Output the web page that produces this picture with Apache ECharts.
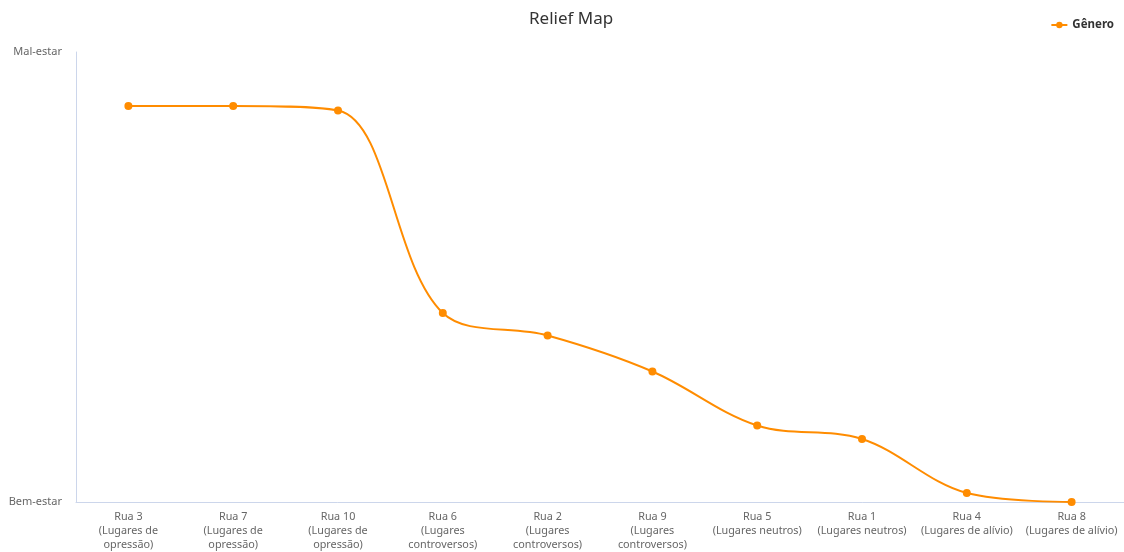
<!DOCTYPE html>
<html>
<head>
<meta charset="utf-8">
<script src="https://cdn.jsdelivr.net/npm/echarts@6/dist/echarts.min.js"></script>
<style>
html,body{margin:0;padding:0;background:#fff;}
#chart{width:1124px;height:552px;}
</style>
</head>
<body>
<div id="chart"></div>
<script>
const categories = [
  "Rua 3\n(Lugares de\nopressão)",
  "Rua 7\n(Lugares de\nopressão)",
  "Rua 10\n(Lugares de\nopressão)",
  "Rua 6\n(Lugares\ncontroversos)",
  "Rua 2\n(Lugares\ncontroversos)",
  "Rua 9\n(Lugares\ncontroversos)",
  "Rua 5\n(Lugares neutros)",
  "Rua 1\n(Lugares neutros)",
  "Rua 4\n(Lugares de alívio)",
  "Rua 8\n(Lugares de alívio)"
];
const generoValues = [88, 88, 87, 42, 37, 29, 17, 14, 2, 0];
const yTickLabels = { 0: "Bem-estar", 100: "Mal-estar" };
const seriesName = "Gênero";

const chart = echarts.init(document.getElementById('chart'));
const font = "'Noto Sans', 'DejaVu Sans', sans-serif";
chart.setOption({
  backgroundColor: '#fff',
  animation: false,
  title: {
    text: 'Relief Map', left: 524, top: 6,
    textStyle: { fontFamily: font, fontSize: 17, fontWeight: 'normal', color: '#333' }
  },
  legend: {
    right: 5, top: 14, itemWidth: 16, itemHeight: 8, itemGap: 5,
    textStyle: { fontFamily: font, fontSize: 11.5, fontWeight: 'bold', color: '#333' },
    data: [seriesName]
  },
  grid: { left: 76, right: 0, top: 52, bottom: 46 },
  xAxis: {
    type: 'category', data: categories, boundaryGap: true,
    axisLine: { show: true, lineStyle: { color: '#ccd6eb' } },
    axisTick: { show: false },
    axisLabel: { fontFamily: font, fontSize: 10.8, color: '#666', lineHeight: 14, margin: 8, interval: 0 }
  },
  yAxis: {
    type: 'value', min: 0, max: 100, interval: 100,
    axisLine: { show: true, lineStyle: { color: '#ccd6eb' } },
    axisTick: { show: false },
    splitLine: { show: false },
    axisLabel: {
      fontFamily: font, fontSize: 11, color: '#666', margin: 14,
      formatter: v => yTickLabels[v] || ''
    }
  },
  series: [{
    name: seriesName, type: 'line', data: generoValues, smooth: 0.35,
    symbol: 'circle', symbolSize: 8,
    itemStyle: { color: '#ff8c00' },
    lineStyle: { color: '#ff8c00', width: 2 }
  }]
});
</script>
</body>
</html>
